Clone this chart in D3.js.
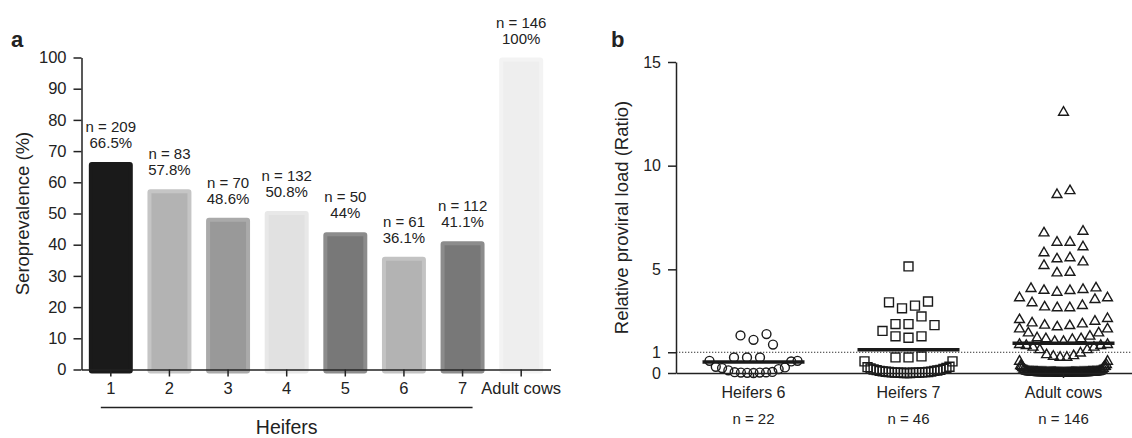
<!DOCTYPE html>
<html>
<head>
<meta charset="utf-8">
<script src="https://cdn.jsdelivr.net/npm/d3@7"></script>
<style>
  body { margin: 0; background: #fff; }
  text { font-family: "Liberation Sans", Arial, sans-serif; fill: #222; }
</style>
</head>
<body>
<script>
// ---- panel a data
var barCats = ["1", "2", "3", "4", "5", "6", "7", "Adult cows"];
var barValues = [66.5, 57.8, 48.6, 50.8, 44, 36.1, 41.1, 100];
var barN = [209, 83, 70, 132, 50, 61, 112, 146];
var yTicksA = [0, 10, 20, 30, 40, 50, 60, 70, 80, 90, 100];

// ---- panel b data
var groupNames = ["Heifers 6", "Heifers 7", "Adult cows"];
var groupN = [22, 46, 146];
var groupMeans = [0.53, 1.12, 1.43];
var yTicksB = [0, 1, 5, 10, 15];
var heifers6 = [1.37, 1.88, 1.6, 1.81, 0.75, 0.75, 0.75, 0.59, 0.56, 0.59,
  0.27, 0.24, 0.3, 0.19, 0.13, 0.02, 0.03, 0.01, 0.0, 0.02, 0.04, 0.05];
var heifers7 = [5.14, 3.45, 3.41, 3.25, 3.12, 2.73, 2.36, 2.36, 2.31, 2.03,
  1.77, 1.77, 1.70, 0.80, 0.75, 0.75, 0.56, 0.56,
  0.3, 0.28, 0.24, 0.2, 0.17, 0.14, 0.12, 0.1, 0.08, 0.06,
  0.05, 0.04, 0.03, 0.02, 0.02, 0.01, 0.01, 0, 0, 0,
  0.01, 0.02, 0.03, 0.05, 0.07, 0.1, 0.15, 0.22];
var adultCows = [12.57, 8.79, 8.6, 6.83, 6.75, 6.3, 6.3, 6.08, 5.79, 5.55,
  5.5, 5.35, 5.18, 4.85, 4.82, 4.1, 4.07, 4.02, 3.98, 3.97,
  3.89, 3.62, 3.62, 3.54, 3.38, 3.25, 3.18, 3.14, 3.14, 2.62,
  2.57, 2.49, 2.41, 2.36, 2.3, 2.28, 2.22, 2.12, 2.12, 1.93,
  1.93, 1.77, 1.69, 1.65, 1.65, 1.61, 1.52, 1.52, 1.37, 1.37,
  1.32, 1.32, 1.24, 1.24, 1.12, 1.12, 0.96, 0.88, 0.83, 0.8,
  0.75, 0.75, 0.56, 0.56, 0.32, 0.32,
  0.01, 0.02, 0.00, 0.03, 0.01, 0.05, 0.02, 0.00, 0.04, 0.01,
  0.02, 0.06, 0.00, 0.01, 0.03, 0.02, 0.08, 0.01, 0.00, 0.02,
  0.04, 0.01, 0.03, 0.10, 0.00, 0.02, 0.01, 0.05, 0.02, 0.00,
  0.12, 0.03, 0.01, 0.02, 0.00, 0.06, 0.01, 0.04, 0.02, 0.15,
  0.00, 0.01, 0.03, 0.02, 0.07, 0.01, 0.00, 0.02, 0.18, 0.04,
  0.01, 0.03, 0.00, 0.02, 0.09, 0.01, 0.05, 0.00, 0.22, 0.02,
  0.03, 0.01, 0.00, 0.11, 0.02, 0.04, 0.01, 0.26, 0.00, 0.03,
  0.02, 0.14, 0.01, 0.06, 0.00, 0.30, 0.02, 0.35, 0.01, 0.40];
var groupValues = [heifers6, heifers7, adultCows];

// styles
var barFill = ["#1a1a1a", "#b3b3b3", "#999999", "#e1e1e1", "#787878", "#b3b3b3", "#787878", "#eeeeee"];
var barEdge = ["#1a1a1a", "#c5c5c5", "#aaaaaa", "#e8e8e8", "#8c8c8c", "#c3c3c3", "#8c8c8c", "#f3f3f3"];
var groupShapes = [d3.symbolCircle, d3.symbolSquare, d3.symbolTriangle];
var groupSizes = [62, 80, 42];

var svg = d3.select("body").append("svg")
  .attr("width", 1132)
  .attr("height", 438);

// ================= panel a =================
var xA = d3.scaleBand()
  .domain(barCats)
  .range([81.5, 550.5])
  .paddingInner(0.25)
  .paddingOuter(0.125);
var yA = d3.scaleLinear().domain([0, 100]).range([369.5, 57.5]);

var gA = svg.append("g");
var edgeW = 4;
gA.selectAll("rect.bar")
  .data(barValues)
  .enter()
  .append("rect")
  .attr("class", "bar")
  .attr("x", (d, i) => xA(barCats[i]) + edgeW / 2)
  .attr("y", d => yA(d) + edgeW / 2)
  .attr("width", xA.bandwidth() - edgeW)
  .attr("height", d => yA(0) - yA(d))
  .attr("rx", 1)
  .attr("fill", (d, i) => barFill[i])
  .attr("stroke", (d, i) => barEdge[i])
  .attr("stroke-width", edgeW);

// value labels above bars
var lab = gA.selectAll("text.lab")
  .data(barValues)
  .enter()
  .append("text")
  .attr("class", "lab")
  .attr("text-anchor", "middle")
  .attr("font-size", 15)
  .attr("x", (d, i) => xA(barCats[i]) + xA.bandwidth() / 2)
  .attr("y", d => yA(d) - 30);
lab.append("tspan").text((d, i) => "n = " + barN[i]);
lab.append("tspan")
  .attr("x", (d, i) => xA(barCats[i]) + xA.bandwidth() / 2)
  .attr("dy", 16)
  .text(d => d + "%");

var axA_y = gA.append("g")
  .attr("transform", "translate(81.5,0)")
  .call(d3.axisLeft(yA).tickValues(yTicksA).tickSize(8).tickSizeOuter(0).tickPadding(7));
var axA_x = gA.append("g")
  .attr("transform", "translate(0,369.5)")
  .call(d3.axisBottom(xA).tickSize(7).tickSizeOuter(0).tickPadding(6));
[axA_y, axA_x].forEach(function(ax) {
  ax.selectAll("path, line").attr("stroke", "#222").attr("stroke-width", 1.5);
  ax.selectAll("text").attr("font-size", 16.5).attr("fill", "#222")
    .style("font-family", "'Liberation Sans', Arial, sans-serif");
});

// heifers bracket
var c1 = xA("1") + xA.bandwidth() / 2;
var c7 = xA("7") + xA.bandwidth() / 2;
gA.append("line")
  .attr("x1", c1 - 10).attr("x2", c7 + 10)
  .attr("y1", 407.5).attr("y2", 407.5)
  .attr("stroke", "#222").attr("stroke-width", 1.5);
gA.append("text")
  .attr("x", (c1 + c7) / 2).attr("y", 433.5)
  .attr("text-anchor", "middle")
  .attr("font-size", 19.5)
  .text("Heifers");

gA.append("text")
  .attr("transform", "translate(29," + (yA(50)) + ") rotate(-90)")
  .attr("text-anchor", "middle")
  .attr("font-size", 18.5)
  .text("Seroprevalence (%)");

svg.append("text").attr("x", 11).attr("y", 47)
  .attr("font-size", 22).attr("font-weight", "bold").text("a");

// ================= panel b =================
var xB = d3.scaleBand().domain(groupNames).range([676, 1141]);
var yB = d3.scaleLinear().domain([0, 15]).range([373, 62]);
var gB = svg.append("g");

// dotted reference at ratio 1
gB.append("line")
  .attr("x1", 676).attr("x2", 1132)
  .attr("y1", yB(1)).attr("y2", yB(1))
  .attr("stroke", "#333").attr("stroke-width", 1)
  .attr("stroke-dasharray", "1.3,1.7");

// row-based dot layout, lowest values in the middle of each row
var rowPx = 13, halfW = 44, maxStep = 13;
function layout(values, cx) {
  var sorted = values.slice().sort((a, b) => a - b);
  var rows = [], cur = null;
  sorted.forEach(function(v) {
    if (!cur || yB(cur.start) - yB(v) >= rowPx) {
      cur = { start: v, vals: [] };
      rows.push(cur);
    }
    cur.vals.push(v);
  });
  var pts = [];
  rows.forEach(function(r) {
    var n = r.vals.length;
    var step = n > 1 ? Math.min(maxStep, 2 * halfW / (n - 1)) : 0;
    var slots = d3.range(n).map(k => (k - (n - 1) / 2) * step);
    slots.sort((a, b) => Math.abs(a) - Math.abs(b) || a - b);
    r.vals.forEach((v, i) => pts.push({ x: cx + slots[i], y: yB(v) }));
  });
  return pts;
}

groupNames.forEach(function(name, gi) {
  var cx = xB(name) + xB.bandwidth() / 2;
  var pts = layout(groupValues[gi], cx);
  var sym = d3.symbol().type(groupShapes[gi]).size(groupSizes[gi]);
  gB.selectAll("path.pt" + gi)
    .data(pts)
    .enter()
    .append("path")
    .attr("class", "pt" + gi)
    .attr("d", sym)
    .attr("transform", d => "translate(" + d.x + "," + d.y + ")")
    .attr("fill", "none")
    .attr("stroke", "#1a1a1a")
    .attr("stroke-width", 1.4);
  gB.append("line")
    .attr("x1", cx - 51).attr("x2", cx + 51)
    .attr("y1", yB(groupMeans[gi])).attr("y2", yB(groupMeans[gi]))
    .attr("stroke", "#1a1a1a").attr("stroke-width", 3.5);
  gB.append("text")
    .attr("x", cx).attr("y", 423.5)
    .attr("text-anchor", "middle")
    .attr("font-size", 15)
    .text("n = " + groupN[gi]);
});

var axB_y = gB.append("g")
  .attr("transform", "translate(676,0)")
  .call(d3.axisLeft(yB).tickValues(yTicksB).tickSize(8).tickSizeOuter(0).tickPadding(7));
var axB_x = gB.append("g")
  .attr("transform", "translate(0,373)")
  .call(d3.axisBottom(xB).tickSize(5).tickSizeOuter(0).tickPadding(9));
[axB_y, axB_x].forEach(function(ax) {
  ax.selectAll("path, line").attr("stroke", "#222").attr("stroke-width", 1.5);
  ax.selectAll("text").attr("font-size", 16).attr("fill", "#222")
    .style("font-family", "'Liberation Sans', Arial, sans-serif");
});

gB.append("text")
  .attr("transform", "translate(628," + ((yB(0) + yB(15)) / 2) + ") rotate(-90)")
  .attr("text-anchor", "middle")
  .attr("font-size", 18.5)
  .text("Relative proviral load (Ratio)");

svg.append("text").attr("x", 611).attr("y", 47)
  .attr("font-size", 22).attr("font-weight", "bold").text("b");
</script>
</body>
</html>
